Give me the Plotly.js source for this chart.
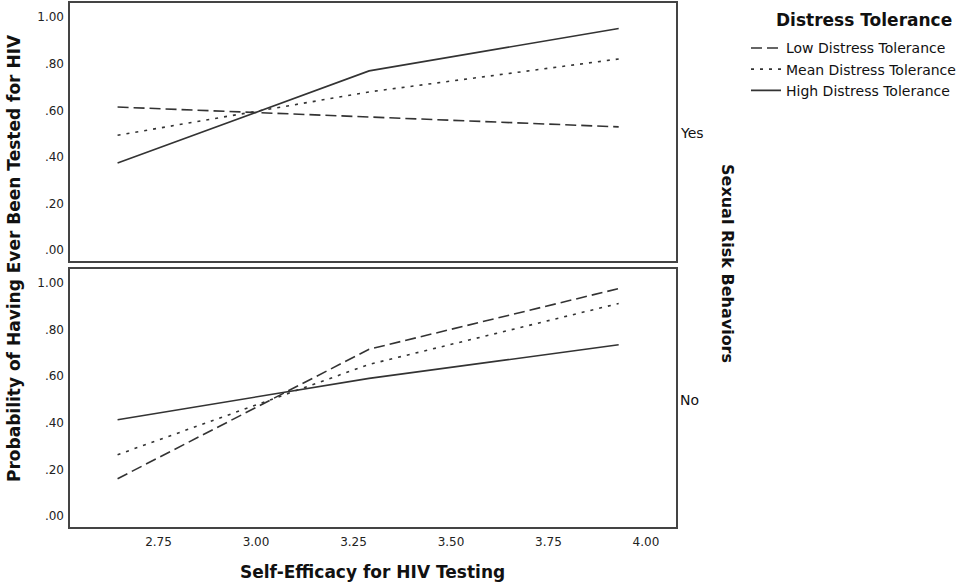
<!DOCTYPE html>
<html>
<head>
<meta charset="utf-8">
<script src="https://cdn.plot.ly/plotly-3.0.1.min.js"></script>
<style>html,body{margin:0;padding:0;background:#fff;}#chart{width:973px;height:587px;}</style>
</head>
<body>
<div id="chart"></div>
<script>
// Self-efficacy points (mean - 1SD, mean, mean + 1SD)
const selfEfficacy = [2.645, 3.29, 3.93];

// Panel: Sexual Risk Behaviors = Yes
const yesLow  = [0.614, 0.571, 0.529];
const yesMean = [0.493, 0.679, 0.820];
const yesHigh = [0.374, 0.769, 0.951];

// Panel: Sexual Risk Behaviors = No
const noLow  = [0.161, 0.716, 0.976];
const noMean = [0.264, 0.651, 0.912];
const noHigh = [0.414, 0.591, 0.735];

const seriesNames = ["Low Distress Tolerance", "Mean Distress Tolerance", "High Distress Tolerance"];
const yTickVals = [0, 0.2, 0.4, 0.6, 0.8, 1.0];
const yTickText = [".00", ".20", ".40", ".60", ".80", "1.00"];
const xTickVals = [2.75, 3.0, 3.25, 3.5, 3.75, 4.0];
const xTickText = ["2.75", "3.00", "3.25", "3.50", "3.75", "4.00"];
const panelLabels = ["Yes", "No"];

const lineColor = "#333333";
const dashes = ["11px,5px", "3px,6px", "solid"];

const panels = [
  {ys: [yesLow, yesMean, yesHigh], xa: "x", ya: "y", legend: true},
  {ys: [noLow, noMean, noHigh], xa: "x2", ya: "y2", legend: false}
];

const traces = [];
panels.forEach(p => {
  p.ys.forEach((vals, i) => {
    traces.push({
      type: "scatter", mode: "lines",
      x: selfEfficacy, y: vals,
      xaxis: p.xa, yaxis: p.ya,
      name: seriesNames[i],
      showlegend: p.legend,
      line: {color: lineColor, width: 1.6, dash: dashes[i]},
      hoverinfo: "skip"
    });
  });
});

const FONT = "DejaVu Sans, Verdana, sans-serif";
const tickFont = {family: FONT, size: 12, color: "#222"};
const frame = {showline: true, mirror: true, linecolor: "#444444", linewidth: 1.6, showgrid: false, zeroline: false, ticks: ""};

const xBase = Object.assign({}, frame, {range: [2.523, 4.077], tickvals: xTickVals, ticktext: xTickText, tickfont: tickFont});
const yBase = Object.assign({}, frame, {range: [-0.046, 1.06], tickvals: yTickVals, ticktext: yTickText, tickfont: tickFont, ticklabelstandoff: 2});

const layout = {
  width: 973, height: 587,
  margin: {l: 70, r: 297, t: 3, b: 60},
  paper_bgcolor: "#fff", plot_bgcolor: "#fff",
  showlegend: true,
  xaxis: Object.assign({}, xBase, {anchor: "y", showticklabels: false, matches: "x2"}),
  yaxis: Object.assign({}, yBase, {domain: [0.5076, 1], anchor: "x"}),
  xaxis2: Object.assign({}, xBase, {anchor: "y2", ticklabelstandoff: 3}),
  yaxis2: Object.assign({}, yBase, {domain: [0, 0.4924], anchor: "x2"}),
  legend: {
    x: 1.1155, y: 0.944, xanchor: "left", yanchor: "top",
    font: {family: FONT, size: 14, color: "#111"},
    itemwidth: 30, tracegroupgap: 0, bgcolor: "rgba(0,0,0,0)"
  },
  annotations: [
    {text: "<b>Distress Tolerance</b>", xref: "paper", yref: "paper", x: (863.5 - 70) / 606, y: (527 - 20) / 524, showarrow: false, xanchor: "center", yanchor: "middle", font: {family: FONT, size: 17, color: "#111"}},
    {text: "<b>Probability of Having Ever Been Tested for HIV</b>", xref: "paper", yref: "paper", x: (14 - 70) / 606, y: (527 - 258) / 524, textangle: -90, showarrow: false, xanchor: "center", yanchor: "middle", font: {family: FONT, size: 17, color: "#111"}},
    {text: "<b>Self-Efficacy for HIV Testing</b>", xref: "paper", yref: "paper", x: (372 - 70) / 606, y: (527 - 572) / 524, showarrow: false, xanchor: "center", yanchor: "middle", font: {family: FONT, size: 17, color: "#111"}},
    {text: "<b>Sexual Risk Behaviors</b>", xref: "paper", yref: "paper", x: (728 - 70) / 606, y: (527 - 263) / 524, textangle: 90, showarrow: false, xanchor: "center", yanchor: "middle", font: {family: FONT, size: 16, color: "#111"}},
    {text: panelLabels[0], xref: "paper", yref: "paper", x: (678 - 70) / 606, y: (527 - 133) / 524, showarrow: false, xanchor: "left", yanchor: "middle", font: {family: FONT, size: 14, color: "#111"}},
    {text: panelLabels[1], xref: "paper", yref: "paper", x: (678 - 70) / 606, y: (527 - 400) / 524, showarrow: false, xanchor: "left", yanchor: "middle", font: {family: FONT, size: 14, color: "#111"}}
  ]
};

Plotly.newPlot("chart", traces, layout, {displayModeBar: false, staticPlot: true});
</script>
</body>
</html>
